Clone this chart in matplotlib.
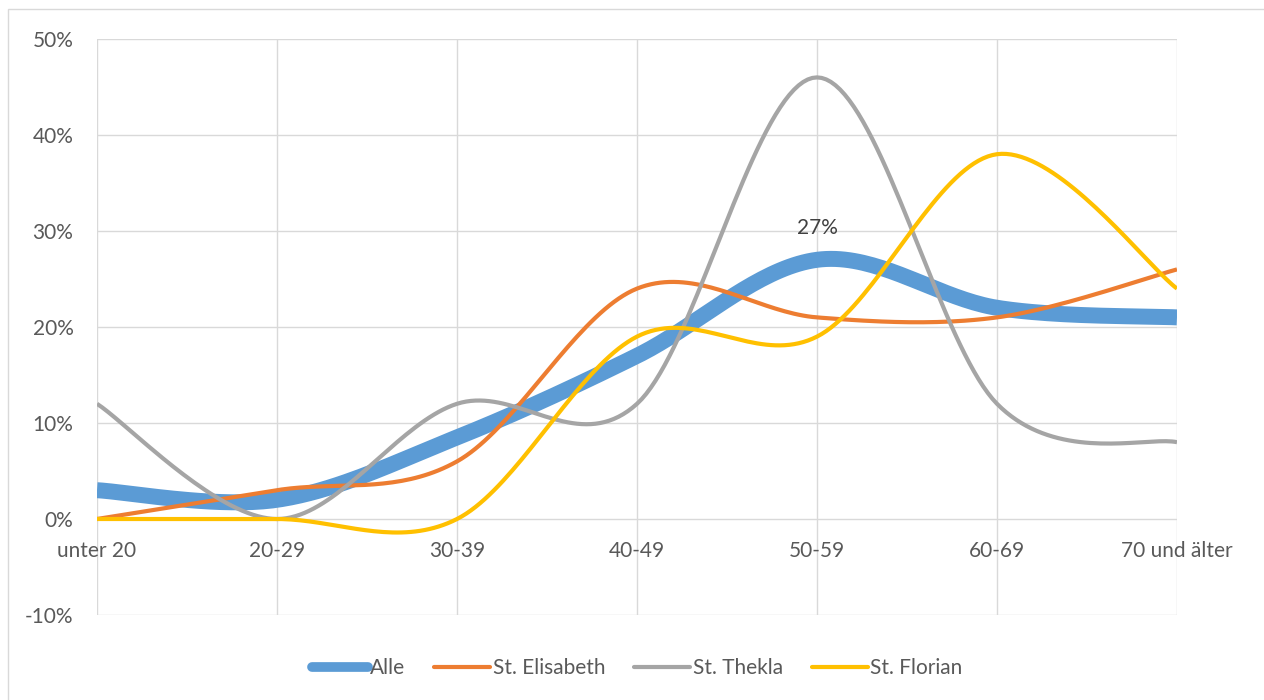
import numpy as np
import matplotlib.pyplot as plt
from matplotlib.patches import Rectangle
from matplotlib.ticker import FuncFormatter

plt.rcParams['font.family'] = ['Lato', 'DejaVu Sans']

categories = ['unter 20', '20-29', '30-39', '40-49', '50-59', '60-69', '70 und älter']
alle = [3, 2, 8.5, 17, 27, 22, 21]
elisabeth = [0, 3, 6, 24, 21, 21, 26]
thekla = [12, 0, 12, 12, 46, 12, 8]
florian = [0, 0, 0, 19, 19, 38, 24]

series = [
    ('Alle', alle, '#5B9BD5', 11.5),
    ('St. Elisabeth', elisabeth, '#ED7D31', 3),
    ('St. Thekla', thekla, '#A5A5A5', 3),
    ('St. Florian', florian, '#FFC000', 3),
]

FS = 15


def smooth(y, n=40):
    # Excel-style smoothed line: bezier segments, control points from neighbours
    y = np.asarray(y, dtype=float)
    x = np.arange(len(y), dtype=float)
    pts = np.c_[x, y]
    out = []
    for i in range(len(pts) - 1):
        p0 = pts[i]
        p3 = pts[i + 1]
        pm = pts[i - 1] if i > 0 else pts[i]
        pn = pts[i + 2] if i + 2 < len(pts) else pts[i + 1]
        p1 = p0 + (p3 - pm) / 6
        p2 = p3 - (pn - p0) / 6
        t = np.linspace(0, 1, n)[:, None]
        seg = (1 - t)**3 * p0 + 3 * (1 - t)**2 * t * p1 + 3 * (1 - t) * t**2 * p2 + t**3 * p3
        out.append(seg if i == 0 else seg[1:])
    out = np.vstack(out)
    return out[:, 0], out[:, 1]


fig = plt.figure(figsize=(12.64, 7), dpi=100)
fig.patches.append(Rectangle((8 / 1264, -0.01), 1.02, 1 - 9 / 700 + 0.01,
                             transform=fig.transFigure, fill=False,
                             edgecolor='#D9D9D9', linewidth=1))
ax = fig.add_axes([97 / 1264, 85 / 700, 1080 / 1264, 576 / 700])

for name, vals, color, lw in series:
    xs, ys = smooth(vals)
    ax.plot(xs, ys, color=color, linewidth=lw, solid_capstyle='butt', label=name)

ax.set_xlim(0, 6)
ax.set_ylim(-10, 50)
ax.set_yticks(np.arange(-10, 51, 10))
ax.yaxis.set_major_formatter(FuncFormatter(lambda v, p: f'{v:.0f}%'))
ax.set_xticks(range(len(categories)))
ax.set_xticklabels([])
ax.grid(True, color='#D9D9D9', linewidth=1)
ax.set_axisbelow(True)
for s in ax.spines.values():
    s.set_visible(False)
ax.tick_params(length=0, labelsize=FS, labelcolor='#595959', pad=17)

for i, c in enumerate(categories):
    ax.annotate(c, (i, 0), xytext=(0, -23), textcoords='offset points',
                ha='center', va='center', fontsize=FS, color='#595959')

ax.annotate(f'{alle[4]:.0f}%', (4, alle[4]), xytext=(0, 23), textcoords='offset points',
            ha='center', va='center', fontsize=FS, color='#404040')

leg = ax.legend(loc='center', bbox_to_anchor=(0.5, -0.092), ncol=4, frameon=False,
                fontsize=FS, handlelength=2.7, handletextpad=0.1, columnspacing=1.4)
for t in leg.get_texts():
    t.set_color('#595959')
for h in leg.get_lines():
    h.set_solid_capstyle('round')
leg.get_lines()[0].set_linewidth(7)

fig.savefig('out.png', dpi=100)
